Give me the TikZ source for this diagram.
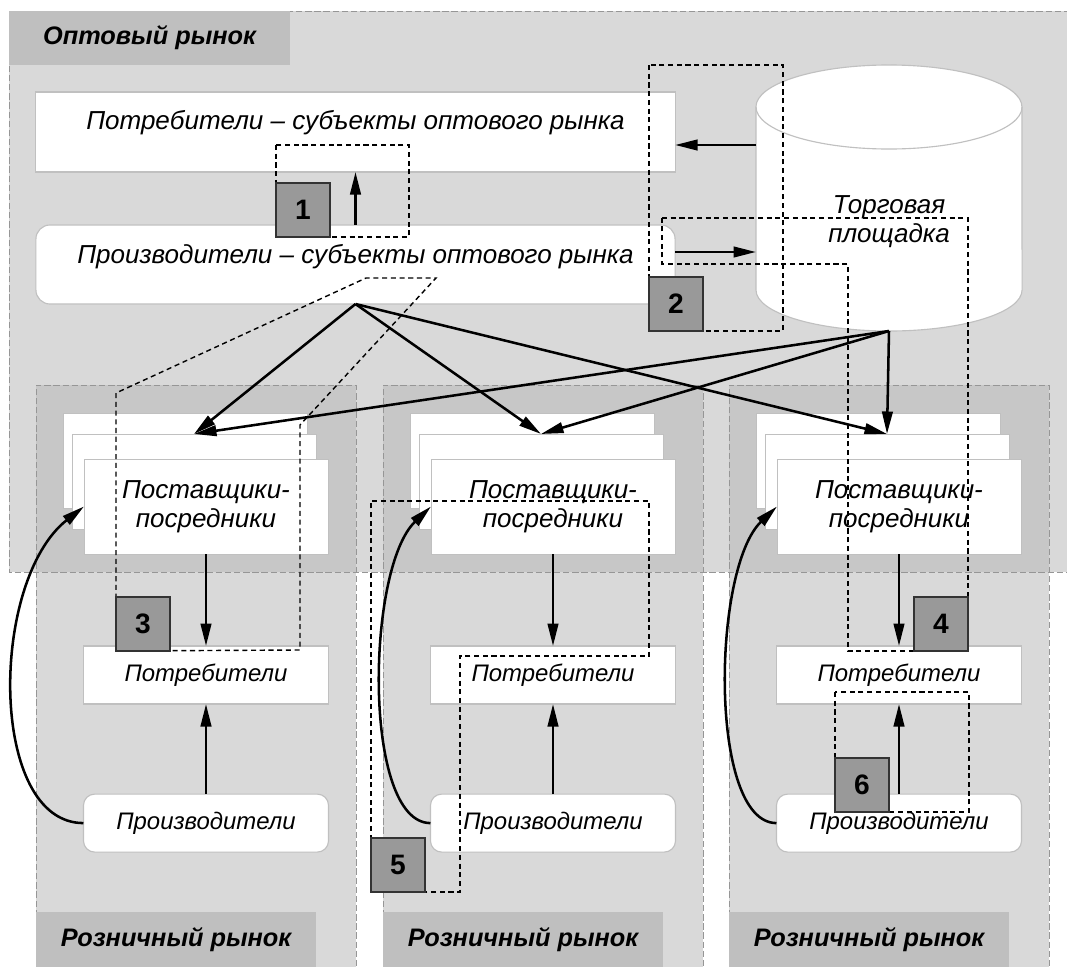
\documentclass[tikz,border=0pt]{standalone}
\usepackage{fontspec}
\setmainfont{Liberation Sans}
\usetikzlibrary{positioning, arrows.meta, calc}
\definecolor{optgray}{RGB}{217,217,217}
\definecolor{overgray}{RGB}{199,199,199}
\definecolor{tabgray}{RGB}{191,191,191}
\definecolor{numgray}{RGB}{153,153,153}
\definecolor{rimgray}{RGB}{192,192,192}
\definecolor{zonegray}{RGB}{150,150,150}

\begin{document}
\begin{tikzpicture}[x=0.025cm, y=-0.025cm,
    every node/.style={font=\fontsize{18.5}{20.6}\selectfont\itshape, inner sep=0pt, outer sep=0pt},
    zoneline/.style={draw=zonegray, dash pattern=on 4.5pt off 2pt, line width=0.7pt},
    tab/.style={fill=tabgray, anchor=north west, font=\fontsize{18}{20}\selectfont\bfseries\itshape},
    bigbox/.style={draw=rimgray, fill=white, line width=0.8pt, minimum width=15.975cm},
    sheet/.style={draw=rimgray, fill=white, line width=0.6pt, minimum width=6.1cm, minimum height=2.375cm, align=center, font=\fontsize{18.5}{20.6}\selectfont\itshape},
    smallbox/.style={draw=rimgray, fill=white, line width=0.8pt, minimum width=6.125cm, minimum height=1.45cm, font=\fontsize{17}{19}\selectfont\itshape},
    num/.style={draw=black!80, fill=numgray, line width=0.8pt, minimum size=1.35cm, font=\fontsize{20}{20}\selectfont\bfseries},
    arr/.style={-{Triangle[length=16pt, width=7.5pt]}, line width=1.8pt},
    hint/.style={dash pattern=on 3.6pt off 2.6pt, line width=1pt}]
  \useasboundingbox (0,0) rectangle (1067,967);
  \fill[white] (0,0) rectangle (1067,967);

  % market zones
  \fill[optgray] (9,11) rectangle (1080,572);
  \fill[optgray] (36,385) rectangle (356,980);
  \fill[optgray] (383,385) rectangle (703,980);
  \fill[optgray] (729,385) rectangle (1049,980);
  \fill[overgray] (36,385) rectangle (356,572);
  \fill[overgray] (383,385) rectangle (703,572);
  \fill[overgray] (729,385) rectangle (1049,572);
  \draw[zoneline] (9,11) rectangle (1080,572);
  \draw[zoneline] (36,980) -- (36,385) -- (356,385) -- (356,980);
  \draw[zoneline] (383,980) -- (383,385) -- (703,385) -- (703,980);
  \draw[zoneline] (729,980) -- (729,385) -- (1049,385) -- (1049,980);

  \node[tab, minimum width=7.025cm, minimum height=1.35cm] (opt) at (9,11) {Оптовый рынок};
  \node[tab, minimum width=7cm, minimum height=1.375cm] (ret1) at (36,912) {Розничный рынок};
  \node[tab, minimum width=7cm, minimum height=1.375cm] (ret2) at (383,912) {Розничный рынок};
  \node[tab, minimum width=7cm, minimum height=1.375cm] (ret3) at (729,912) {Розничный рынок};

  % wholesale level
  \node[bigbox, minimum height=2cm, text depth=17.7pt] (cons) at (355.5,132) {Потребители – субъекты оптового рынка};
  \node[bigbox, rounded corners=10pt, minimum height=1.975cm, text depth=14.7pt] (prod) at (355.5,264.5) {Производители – субъекты оптового рынка};

  \filldraw[fill=white, draw=rimgray, line width=0.8pt]
    (756,107) -- (756,290) arc[start angle=180, end angle=360, x radius=3.325cm, y radius=1.025cm]
    -- (1022,107) arc[start angle=0, end angle=180, x radius=3.325cm, y radius=1.05cm] -- cycle;
  \draw[rimgray, line width=0.8pt] (756,107) arc[start angle=180, end angle=360, x radius=3.325cm, y radius=1.05cm];
  \node[align=center] (market) at (889,222) {Торговая\\площадка};
  \coordinate (mktA) at (756,145);
  \coordinate (mktB) at (756,252);
  \coordinate (mktbot) at (889,331);

  % retail level
  \node[sheet] (back1) at (185,460.5) {};
  \node[sheet] (mid1) at (194,481.5) {};
  \node[sheet] (front1) at (206,506.5) {Поставщики-\\посредники};
  \node[smallbox, below=2.3cm of front1] (rcons1) {Потребители};
  \node[smallbox, rounded corners=8pt, below=2.25cm of rcons1] (rprod1) {Производители};

  \node[sheet] (back2) at (532,460.5) {};
  \node[sheet] (mid2) at (541,481.5) {};
  \node[sheet] (front2) at (553,506.5) {Поставщики-\\посредники};
  \node[smallbox, below=2.3cm of front2] (rcons2) {Потребители};
  \node[smallbox, rounded corners=8pt, below=2.25cm of rcons2] (rprod2) {Производители};

  \node[sheet] (back3) at (878,460.5) {};
  \node[sheet] (mid3) at (887,481.5) {};
  \node[sheet] (front3) at (899,506.5) {Поставщики-\\посредники};
  \node[smallbox, below=2.3cm of front3] (rcons3) {Потребители};
  \node[smallbox, rounded corners=8pt, below=2.25cm of rcons3] (rprod3) {Производители};

  % flows
  \draw[arr] (mktA) -- (cons.east |- mktA);
  \draw[arr] (prod.east |- mktB) -- (mktB);
  \draw[arr] (prod.north) -- (cons.south);
  \draw[arr] (prod.south) -- (mid1.north);
  \draw[arr] (prod.south) -- (mid2.north);
  \draw[arr] (prod.south) -- (mid3.north);
  \draw[arr] (mktbot) -- (mid1.north);
  \draw[arr] (mktbot) -- (mid2.north);
  \draw[arr] (mktbot) -- (mid3.north);
  \draw[arr] (front1) -- (rcons1);
  \draw[arr] (front2) -- (rcons2);
  \draw[arr] (front3) -- (rcons3);
  \draw[arr] (rprod1) -- (rcons1);
  \draw[arr] (rprod2) -- (rcons2);
  \draw[arr] (rprod3) -- (rcons3);
  \draw[arr] (rprod1.west) .. controls +(-95,0) and +(-95,75) .. (front1.west);
  \draw[arr] (rprod2.west) .. controls +(-68,0) and +(-65,62) .. (front2.west);
  \draw[arr] (rprod3.west) .. controls +(-68,0) and +(-65,62) .. (front3.west);

  % numbered outlines
  \draw[hint] (276,145) rectangle (409,237);
  \node[num, anchor=south west] (n1) at (276,237) {1};
  \draw[hint] (649,65) rectangle (783,331);
  \node[num, anchor=south west] (n2) at (649,331) {2};
  \draw[hint] (116,651) -- (116,393) -- (366,278) -- (436,278) -- (300,425) -- (300,650) -- cycle;
  \node[num, anchor=south west] (n3) at (116,651) {3};
  \draw[hint] (662,218) -- (968,218) -- (968,651) -- (848,651) -- (848,264) -- (662,264) -- cycle;
  \node[num, anchor=south east] (n4) at (968,651) {4};
  \draw[hint] (371,892) -- (371,501) -- (649,501) -- (649,656) -- (460,656) -- (460,892) -- cycle;
  \node[num, anchor=south west] (n5) at (371,892) {5};
  \draw[hint] (835,692) rectangle (969,812);
  \node[num, anchor=south west] (n6) at (835,812) {6};
\end{tikzpicture}
\end{document}
